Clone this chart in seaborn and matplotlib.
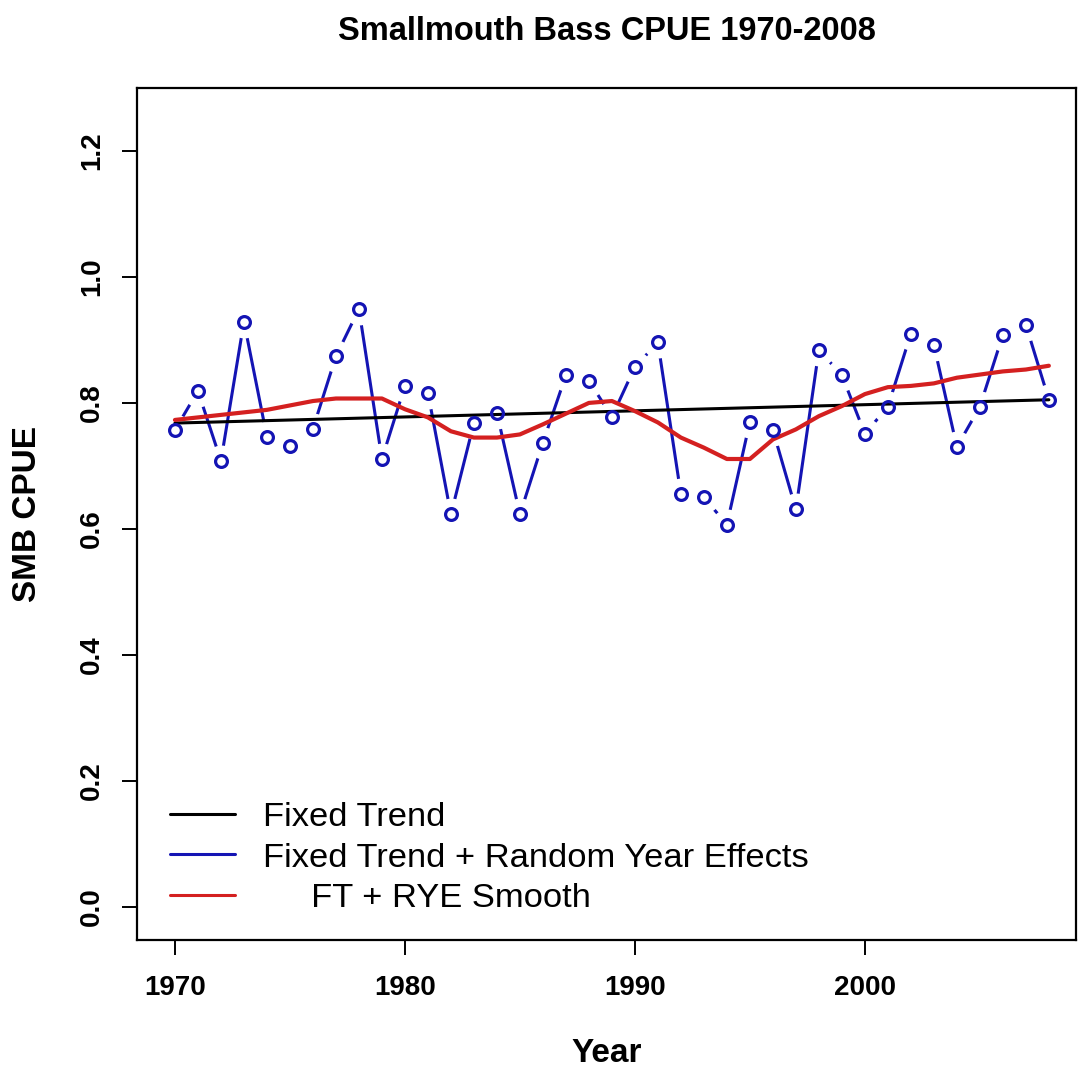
import numpy as np
import pandas as pd
import matplotlib
matplotlib.use("Agg")
import matplotlib.pyplot as plt
import seaborn as sns

# Annual smallmouth bass catch per unit effort
years = list(range(1970, 2009))
ft_rye = [0.757, 0.819, 0.708, 0.929, 0.746, 0.731, 0.759, 0.874, 0.949, 0.711,
          0.827, 0.816, 0.623, 0.768, 0.784, 0.623, 0.737, 0.844, 0.835, 0.778,
          0.857, 0.896, 0.655, 0.650, 0.607, 0.770, 0.757, 0.631, 0.884, 0.844,
          0.751, 0.794, 0.910, 0.892, 0.730, 0.794, 0.908, 0.924, 0.805]
smooth = [0.773, 0.777, 0.781, 0.785, 0.789, 0.796, 0.803, 0.807, 0.807, 0.807,
          0.790, 0.777, 0.755, 0.745, 0.745, 0.750, 0.766, 0.783, 0.800, 0.803,
          0.787, 0.769, 0.745, 0.729, 0.711, 0.711, 0.742, 0.758, 0.779, 0.795,
          0.814, 0.825, 0.827, 0.831, 0.840, 0.845, 0.850, 0.853, 0.859]
trend_start, trend_end = 0.768, 0.805
fixed = list(np.linspace(trend_start, trend_end, len(years)))

x_ticks = [1970, 1980, 1990, 2000]
y_ticks = [0.0, 0.2, 0.4, 0.6, 0.8, 1.0, 1.2]

df = pd.DataFrame({"Year": years, "FTRYE": ft_rye, "Smooth": smooth, "Fixed": fixed})

sns.set_style("white")
plt.rcParams["font.family"] = ["Liberation Sans", "DejaVu Sans"]
plt.rcParams.update({"text.color": "black", "axes.labelcolor": "black",
                     "xtick.color": "black", "ytick.color": "black"})

BLUE = "#1414b4"
RED = "#d42020"

fig = plt.figure(figsize=(10.78, 10.77), dpi=100)
ax = fig.add_axes([137 / 1078, 1 - 940 / 1077, (1076 - 137) / 1078, (940 - 88) / 1077])

# blue series drawn as line with gaps around each point
sns.lineplot(data=df, x="Year", y="FTRYE", ax=ax, color=BLUE, linewidth=2.2,
             label="Fixed Trend + Random Year Effects", zorder=2)
ax.plot(df["Year"], df["FTRYE"], linestyle="none", marker="o", ms=23,
        markerfacecolor="white", markeredgecolor="none", zorder=2.5)
sns.lineplot(data=df, x="Year", y="Fixed", ax=ax, color="black", linewidth=2.2,
             label="Fixed Trend", zorder=3)
sns.lineplot(data=df, x="Year", y="Smooth", ax=ax, color=RED, linewidth=3.0,
             label="     FT + RYE Smooth", zorder=4)
ax.plot(df["Year"], df["FTRYE"], linestyle="none", marker="o", ms=8.5,
        markerfacecolor="none", markeredgecolor=BLUE, mew=2.3, zorder=5)

ax.set_xlim(1968.35, 2009.18)
ax.set_ylim(-0.0524, 1.2998)

ax.set_xticks(x_ticks)
ax.set_xticklabels([str(v) for v in x_ticks], fontsize=20, fontweight="bold")
ax.set_yticks(y_ticks)
ax.set_yticklabels([f"{v:.1f}" for v in y_ticks], fontsize=20, fontweight="bold",
                   rotation=90, va="center")
ax.tick_params(axis="both", direction="out", length=11, width=1.4, color="black",
               labelcolor="black", bottom=True, left=True)
ax.tick_params(axis="x", pad=14)
ax.tick_params(axis="y", pad=12)

for sp in ax.spines.values():
    sp.set_visible(True)
    sp.set_color("black")
    sp.set_linewidth(1.6)

ax.set_xlabel("Year", fontsize=24, fontweight="bold", color="black")
ax.xaxis.set_label_coords(0.5, -(1053 - 940) / 852)
ax.xaxis.label.set_va("center")
ax.set_ylabel("SMB CPUE", fontsize=24, fontweight="bold", color="black")
ax.yaxis.set_label_coords((28 - 137) / 939, 0.5)
ax.yaxis.label.set_va("center")

ax.set_title("Smallmouth Bass CPUE 1970-2008", fontsize=23.5, fontweight="bold",
             color="black", y=(940 - 31) / 852, va="center", pad=0)

handles, labels = ax.get_legend_handles_labels()
order = [labels.index("Fixed Trend"),
         labels.index("Fixed Trend + Random Year Effects"),
         labels.index("     FT + RYE Smooth")]
leg = ax.legend([handles[i] for i in order], [labels[i] for i in order],
                loc="center left", bbox_to_anchor=((170 - 137) / 939, (940 - 858) / 852),
                frameon=False, fontsize=24.8, handlelength=1.9, handletextpad=0.8,
                labelspacing=0.27, borderpad=0, borderaxespad=0)
for line in leg.get_lines():
    line.set_linewidth(2.2)
for t in leg.get_texts():
    t.set_color("black")

fig.savefig("out.png", dpi=100, facecolor="white")
